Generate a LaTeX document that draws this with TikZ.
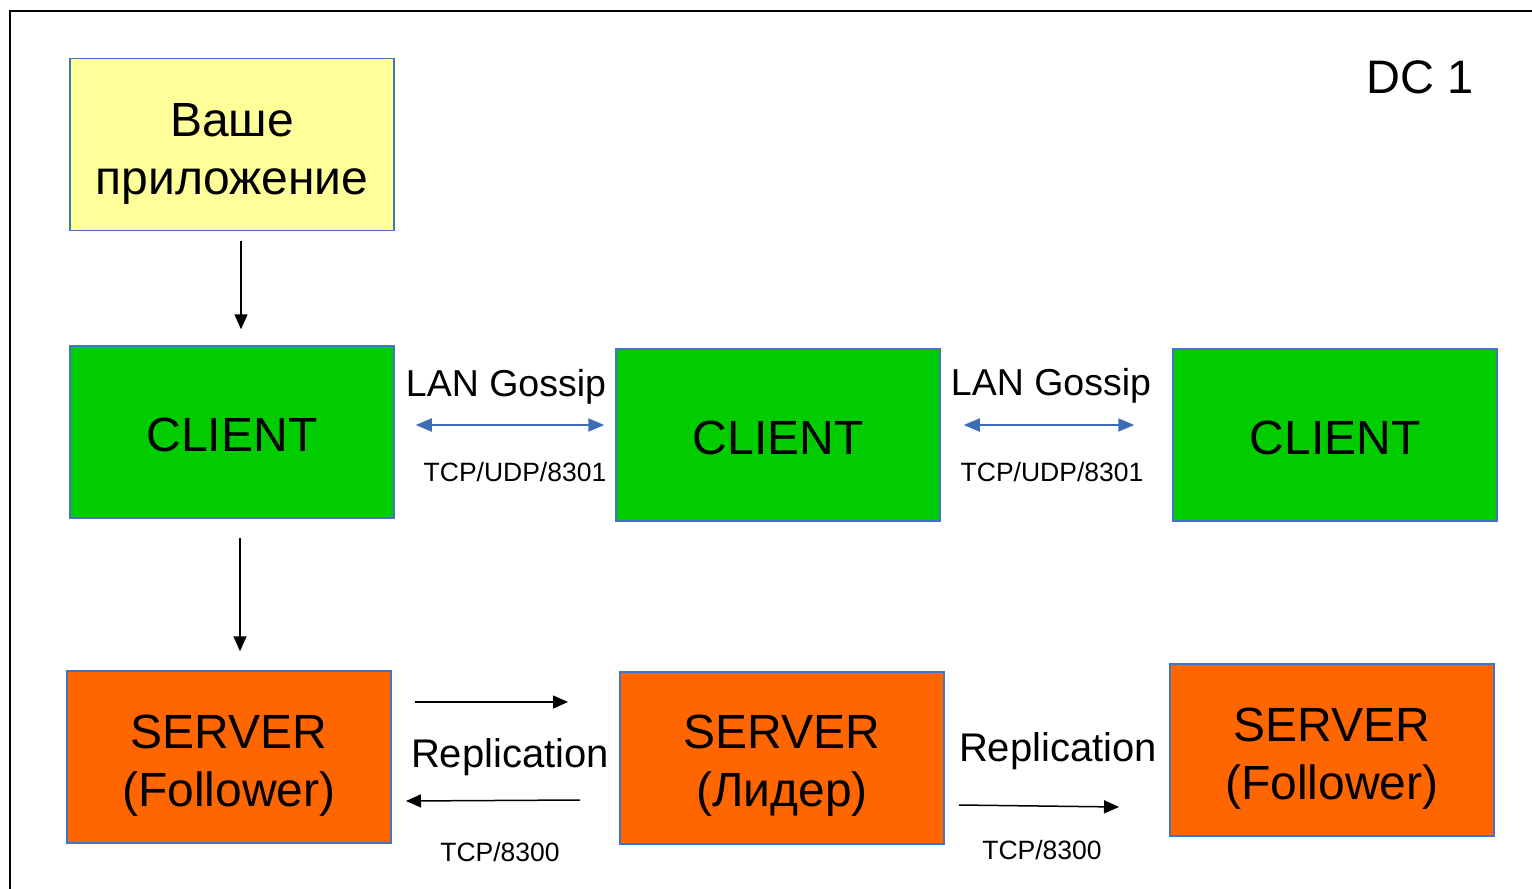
\documentclass[tikz,border=0pt]{standalone}
\usepackage{fontspec}
\setmainfont{Liberation Sans}
\usetikzlibrary{arrows.meta,calc}
\definecolor{appyellow}{HTML}{FFFF99}
\definecolor{clientgreen}{HTML}{00CC00}
\definecolor{serverorange}{HTML}{FF6600}
\definecolor{boxborder}{HTML}{4472C4}
\definecolor{gossipblue}{HTML}{3F6DB3}
\tikzset{
  box/.style={draw=boxborder, line width=1.5pt, minimum width=324pt, minimum height=172pt, inner sep=0pt},
  appbox/.style={box, fill=appyellow},
  clientbox/.style={box, fill=clientgreen},
  serverbox/.style={box, fill=serverorange},
  boxtext/.style={inner sep=0pt, align=center, font=\fontsize{48}{58}\selectfont},
  blackarrow/.style={line width=1.5pt, -{Triangle[length=15pt,width=13pt]}},
  gossiparrow/.style={draw=gossipblue, line width=2pt, {Triangle[length=16pt,width=13pt]}-{Triangle[length=16pt,width=13pt]}},
  biglabel/.style={inner sep=0pt, font=\fontsize{37.5}{44}\selectfont},
  replabel/.style={inner sep=0pt, font=\fontsize{40}{46}\selectfont},
  portlabel/.style={inner sep=0pt, font=\fontsize{26.5}{30}\selectfont},
}
\begin{document}
\begin{tikzpicture}[x=1pt,y=-1pt]
\useasboundingbox (0,0) rectangle (1532,889);
% outer frame
\draw[line width=2.5pt] (10,895) -- (10,11) -- (1540,11);
\node[inner sep=0pt, font=\fontsize{47}{56}\selectfont] (dc) at (1420,77) {DC 1};
% boxes
\node[appbox] (app) at (232,144.5) {};
\node[clientbox] (c1) at (232,432) {};
\node[clientbox] (c2) at (778,435) {};
\node[clientbox] (c3) at (1335,435) {};
\node[serverbox] (s1) at (229,757) {};
\node[serverbox] (s2) at (782,758) {};
\node[serverbox] (s3) at (1332,750) {};
\node[boxtext] (appt) at ([yshift=-9pt]app.center) {Ваше\\приложение};
\node[boxtext] (c1t) at ([yshift=-3pt]c1.center) {CLIENT};
\node[boxtext] (c2t) at ([yshift=-3pt]c2.center) {CLIENT};
\node[boxtext] (c3t) at ([yshift=-3pt]c3.center) {CLIENT};
\node[boxtext] (s1t) at ([yshift=-9pt]s1.center) {SERVER\\(Follower)};
\node[boxtext] (s2t) at ([yshift=-8pt]s2.center) {SERVER\\(Лидер)};
\node[boxtext] (s3t) at ([yshift=-9pt]s3.center) {SERVER\\(Follower)};
% vertical arrows
\draw[blackarrow] ([xshift=9pt,yshift=-10pt]app.south) -- ([xshift=9pt,yshift=16pt]c1.north);
\draw[blackarrow] ([xshift=8pt,yshift=-19pt]c1.south) -- ([xshift=11pt,yshift=19pt]s1.north);
% gossip
\draw[gossiparrow] ([xshift=21pt,yshift=7pt]c1.east) -- ([xshift=-11pt,yshift=10pt]c2.west);
\draw[gossiparrow] ([xshift=23pt,yshift=10pt]c2.east) -- ([xshift=-38pt,yshift=10pt]c3.west);
\node[biglabel] (g1) at (506,387) {LAN Gossip};
\node[biglabel] (g2) at (1051,386) {LAN Gossip};
\node[portlabel] (p1) at (515,472) {TCP/UDP/8301};
\node[portlabel] (p2) at (1052,472) {TCP/UDP/8301};
% replication
\coordinate (r1a) at (415,702);
\coordinate (r1b) at (568,702);
\coordinate (r2a) at (580,800);
\coordinate (r2b) at (406,801);
\coordinate (r3a) at (959,805);
\coordinate (r3b) at (1119,807);
\draw[blackarrow] (r1a) -- (r1b);
\draw[blackarrow] (r2a) -- (r2b);
\draw[blackarrow] (r3a) -- (r3b);
\node[replabel] (rl1) at (510,757) {Replication};
\node[replabel] (rl2) at (1058,751) {Replication};
\node[portlabel] (t1) at (500,852) {TCP/8300};
\node[portlabel] (t2) at (1042,850) {TCP/8300};
\end{tikzpicture}
\end{document}
